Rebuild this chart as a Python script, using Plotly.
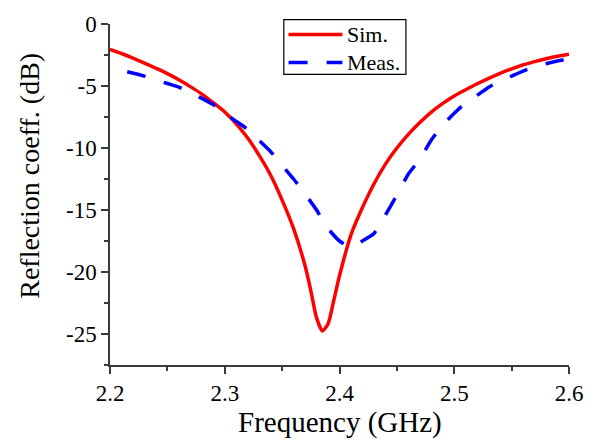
import plotly.graph_objects as go

# Simulated reflection coefficient (dB) vs frequency (GHz)
sim_freq = [2.20, 2.21, 2.22, 2.23, 2.24, 2.25, 2.26, 2.27, 2.28, 2.29,
            2.30, 2.31, 2.32, 2.33, 2.34, 2.35, 2.36, 2.37, 2.375, 2.38,
            2.385, 2.39, 2.395, 2.40, 2.41, 2.42, 2.43, 2.44, 2.45, 2.46,
            2.47, 2.48, 2.49, 2.50, 2.51, 2.52, 2.53, 2.54, 2.55, 2.56,
            2.57, 2.58, 2.59, 2.60]
sim_db = [-2.05, -2.38, -2.75, -3.15, -3.57, -4.0, -4.5, -5.05, -5.65, -6.35,
          -7.1, -8.05, -9.2, -10.6, -12.2, -14.2, -16.5, -19.5, -21.5, -23.7,
          -24.75, -24.2, -22.3, -20.3, -17.0, -14.8, -12.9, -11.3, -10.0, -8.9,
          -7.95, -7.1, -6.4, -5.8, -5.3, -4.82, -4.38, -3.98, -3.62, -3.3,
          -3.03, -2.8, -2.6, -2.44]

# Measured reflection coefficient (dB) vs frequency (GHz)
meas_freq = [2.215, 2.23, 2.25, 2.26, 2.28, 2.29, 2.30, 2.31, 2.32, 2.33,
             2.34, 2.35, 2.36, 2.37, 2.38, 2.39, 2.40, 2.41, 2.42, 2.43,
             2.44, 2.45, 2.46, 2.47, 2.48, 2.49, 2.50, 2.51, 2.52, 2.53,
             2.54, 2.55, 2.56, 2.57, 2.58, 2.59, 2.60]
meas_db = [-3.85, -4.2, -4.8, -5.1, -6.0, -6.5, -7.2, -7.85, -8.5, -9.4,
           -10.3, -11.4, -12.5, -13.7, -15.0, -16.5, -17.5, -18.0, -17.5, -16.9,
           -15.4, -13.8, -12.1, -10.9, -9.35, -8.15, -7.2, -6.35, -5.75, -5.1,
           -4.6, -4.2, -3.8, -3.45, -3.2, -2.98, -2.79]

x_ticks = [2.2, 2.3, 2.4, 2.5, 2.6]
x_tick_text = ["2.2", "2.3", "2.4", "2.5", "2.6"]
y_ticks = [0, -5, -10, -15, -20, -25]
y_tick_text = ["0", "-5", "-10", "-15", "-20", "-25"]

series_names = ["Sim.", "Meas."]
series_colors = ["#ff0000", "#0000ff"]
FONT = "Times New Roman"
AXIS_COLOR = "#3a3a3a"

fig = go.Figure()
fig.add_trace(go.Scatter(x=sim_freq, y=sim_db, mode="lines", name=series_names[0],
                         line=dict(color=series_colors[0], width=3.5,
                                   shape="spline", smoothing=0.6),
                         showlegend=False))
fig.add_trace(go.Scatter(x=meas_freq, y=meas_db, mode="lines", name=series_names[1],
                         line=dict(color=series_colors[1], width=3.5, dash="19px,19px",
                                   shape="spline", smoothing=0.5),
                         showlegend=False))

fig.update_xaxes(
    range=[2.2, 2.6], tickvals=x_ticks, ticktext=x_tick_text,
    showline=True, linecolor=AXIS_COLOR, linewidth=1.5,
    ticks="outside", ticklen=7, tickwidth=1.5, tickcolor=AXIS_COLOR,
    showgrid=False, zeroline=False,
    tickfont=dict(family=FONT, size=23, color="black"),
    minor=dict(ticks="outside", ticklen=4, tickwidth=1.5,
               tickcolor=AXIS_COLOR, dtick=0.05, showgrid=False),
)
fig.update_yaxes(
    range=[-27.5, 0], tickvals=y_ticks, ticktext=y_tick_text,
    showline=True, linecolor=AXIS_COLOR, linewidth=1.5,
    ticks="outside", ticklen=7, tickwidth=1.5, tickcolor=AXIS_COLOR,
    showgrid=False, zeroline=False,
    tickfont=dict(family=FONT, size=23, color="black"),
    minor=dict(ticks="outside", ticklen=4, tickwidth=1.5, tickcolor=AXIS_COLOR,
               tickvals=[-2.5, -7.5, -12.5, -17.5, -22.5, -27.5], showgrid=False),
)

# Legend box with line samples
fig.add_shape(type="rect", xref="paper", yref="paper", x0=0.3787, x1=0.6447, y0=0.852, y1=1.013,
              line=dict(color="black", width=1.2), fillcolor="white", layer="above")
fig.add_shape(type="line", xref="paper", yref="paper", x0=0.389, x1=0.5064, y0=0.969, y1=0.969,
              line=dict(color=series_colors[0], width=3.5), layer="above")
fig.add_shape(type="line", xref="paper", yref="paper", x0=0.389, x1=0.5064, y0=0.887, y1=0.887,
              line=dict(color=series_colors[1], width=3.5, dash="19px,19px"), layer="above")
fig.add_annotation(x=0.513, y=0.969, text=series_names[0], xref="paper", yref="paper",
                   xanchor="left", yanchor="middle", showarrow=False,
                   font=dict(family=FONT, size=22, color="black"))
fig.add_annotation(x=0.513, y=0.887, text=series_names[1], xref="paper", yref="paper",
                   xanchor="left", yanchor="middle", showarrow=False,
                   font=dict(family=FONT, size=22, color="black"))

# Axis titles
fig.add_annotation(x=0.5, y=-0.17, text="Frequency (GHz)", xref="paper", yref="paper",
                   xanchor="center", yanchor="middle", showarrow=False,
                   font=dict(family=FONT, size=29, color="black"))
fig.add_annotation(x=-0.1745, y=0.5546, text="Reflection coeff. (dB)", xref="paper", yref="paper",
                   xanchor="center", yanchor="middle", textangle=-90, showarrow=False,
                   font=dict(family=FONT, size=28, color="black"))

fig.update_layout(
    width=595, height=441,
    margin=dict(l=110, r=15, t=17, b=76),
    paper_bgcolor="white", plot_bgcolor="white",
    showlegend=False,
)

fig.write_html("out.html")
